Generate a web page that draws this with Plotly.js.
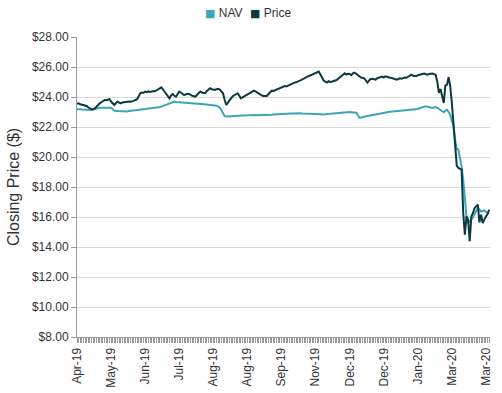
<!DOCTYPE html>
<html>
<head>
<meta charset="utf-8">
<script src="https://cdn.plot.ly/plotly-3.0.1.min.js"></script>
<style>html,body{margin:0;padding:0;background:#fff;}#chart{width:502px;height:393px;}</style>
</head>
<body>
<div id="chart"></div>
<script>
// Daily closing values, Apr-2019 .. Mar-2020 (index = trading day)
const priceValues = [
23.55,23.58,23.52,23.50,23.48,23.47,23.40,23.30,23.22,23.18,
23.20,23.24,23.35,23.48,23.58,23.65,23.75,23.80,23.78,23.84,
23.85,23.70,23.55,23.47,23.60,23.69,23.62,23.58,23.64,23.66,
23.69,23.67,23.70,23.68,23.69,23.74,23.80,23.85,24.05,24.25,
24.30,24.28,24.36,24.32,24.38,24.34,24.36,24.40,24.38,24.44,
24.47,24.55,24.64,24.50,24.35,24.25,24.05,23.91,24.10,24.20,
24.08,24.02,24.20,24.36,24.30,24.18,24.13,24.18,24.22,24.20,
24.12,24.08,24.05,24.02,24.15,24.28,24.36,24.30,24.26,24.25,
24.40,24.52,24.58,24.52,24.48,24.47,24.52,24.55,24.50,24.40,
24.25,23.80,23.47,23.62,23.80,23.92,24.05,24.13,24.18,24.25,
24.08,23.91,23.98,24.05,24.10,24.13,24.20,24.30,24.38,24.42,
24.38,24.30,24.25,24.18,24.10,24.07,24.05,24.07,24.20,24.32,
24.42,24.40,24.45,24.48,24.51,24.58,24.62,24.68,24.73,24.70,
24.76,24.80,24.85,24.90,24.96,24.98,25.05,25.08,25.13,25.20,
25.25,25.30,25.36,25.40,25.45,25.50,25.53,25.60,25.65,25.69,
25.50,25.24,25.10,25.02,24.96,25.05,25.00,25.02,25.08,25.10,
25.13,25.22,25.30,25.36,25.48,25.58,25.50,25.55,25.53,25.45,
25.58,25.62,25.55,25.45,25.36,25.30,25.28,25.24,25.10,24.96,
25.10,25.20,25.22,25.18,25.16,25.25,25.30,25.33,25.36,25.30,
25.38,25.35,25.30,25.28,25.27,25.22,25.20,25.16,25.20,25.25,
25.22,25.27,25.30,25.28,25.35,25.38,25.49,25.42,25.40,25.38,
25.45,25.49,25.50,25.52,25.56,25.52,25.49,25.53,25.55,25.56,
25.52,25.49,25.04,24.27,24.53,24.04,23.60,24.76,24.82,25.33,
24.71,23.60,22.04,20.71,19.42,19.27,19.22,19.16,16.27,14.82,
16.04,15.82,14.38,16.04,16.27,16.60,16.71,16.82,15.64,16.16,
15.60,15.85,16.04,16.20,16.49
];
const navValues = [
23.18,23.20,23.18,23.16,23.15,23.15,23.14,23.13,23.12,23.13,
23.16,23.20,23.24,23.27,23.28,23.29,23.30,23.31,23.30,23.30,
23.29,23.29,23.18,23.09,23.06,23.05,23.04,23.03,23.02,23.02,
23.02,23.04,23.06,23.08,23.10,23.11,23.12,23.13,23.15,23.16,
23.18,23.19,23.20,23.21,23.22,23.23,23.24,23.26,23.28,23.30,
23.32,23.34,23.36,23.40,23.45,23.50,23.53,23.56,23.58,23.64,
23.69,23.67,23.66,23.65,23.64,23.62,23.58,23.58,23.57,23.57,
23.56,23.56,23.55,23.55,23.54,23.54,23.53,23.53,23.52,23.52,
23.51,23.51,23.50,23.49,23.48,23.46,23.42,23.36,23.28,23.12,
22.90,22.72,22.70,22.71,22.72,22.72,22.73,22.74,22.75,22.75,
22.76,22.74,22.75,22.77,22.78,22.78,22.79,22.80,22.80,22.81,
22.80,22.78,22.78,22.79,22.80,22.81,22.82,22.82,22.83,22.82,
22.82,22.84,22.85,22.86,22.86,22.87,22.88,22.88,22.89,22.88,
22.88,22.89,22.90,22.90,22.91,22.90,22.89,22.90,22.91,22.90,
22.90,22.88,22.87,22.86,22.85,22.86,22.85,22.86,22.87,22.86,
22.85,22.84,22.85,22.87,22.88,22.90,22.92,22.93,22.94,22.95,
22.95,22.96,22.97,22.98,22.98,22.99,23.00,23.00,23.00,22.99,
22.98,22.96,22.95,22.80,22.62,22.64,22.68,22.70,22.72,22.74,
22.76,22.79,22.82,22.85,22.88,22.90,22.93,22.95,22.96,22.97,
22.98,22.99,23.00,23.01,23.02,23.04,23.05,23.06,23.07,23.09,
23.11,23.10,23.12,23.13,23.13,23.14,23.14,23.15,23.15,23.16,
23.20,23.25,23.30,23.34,23.36,23.38,23.35,23.30,23.28,23.27,
23.30,23.33,23.28,23.20,23.16,23.05,22.98,23.08,23.16,23.00,
22.82,22.40,22.04,21.16,20.53,20.49,19.90,19.38,18.49,17.16,
16.04,15.60,15.70,15.82,16.00,16.16,16.40,16.60,16.45,16.38,
16.40,16.44,16.35,16.27,16.30
];
const tickLabels = ["Apr-19","May-19","Jun-19","Jul-19","Aug-19","Aug-19","Sep-19","Nov-19","Dec-19","Dec-19","Jan-20","Mar-20","Mar-20"];
const tickStep = 21;
const seriesNames = ["NAV", "Price"];

const dayIndex = priceValues.map((_, i) => i);
const tickPositions = tickLabels.map((_, i) => i * tickStep);

const navColor = '#3aa6b9';
const priceColor = '#0d3942';
const colors = [navColor, priceColor];

const traces = [
  {x: dayIndex, y: navValues, type: 'scatter', mode: 'lines', name: seriesNames[0],
   line: {color: navColor, width: 2}, showlegend: false, hoverinfo: 'skip'},
  {x: dayIndex, y: priceValues, type: 'scatter', mode: 'lines', name: seriesNames[1],
   line: {color: priceColor, width: 2}, showlegend: false, hoverinfo: 'skip'}
];

// compact legend (square swatch + label), like the reference
const legendX = [0.305, 0.414];
const annotations = seriesNames.map((n, i) => ({
  xref: 'paper', yref: 'paper', x: legendX[i], y: 1.08, xanchor: 'left', yanchor: 'middle',
  showarrow: false, align: 'left',
  text: '<span style="color:' + colors[i] + ';font-family:DejaVu Sans;font-size:11px">■</span> ' + n,
  font: {size: 12, color: '#333'}
}));

const layout = {
  width: 502, height: 393,
  margin: {l: 77, r: 12, t: 37, b: 56, pad: 0},
  paper_bgcolor: '#fff', plot_bgcolor: '#fff',
  font: {family: 'Liberation Sans, Arial, sans-serif', size: 12, color: '#333'},
  showlegend: false,
  annotations: annotations,
  xaxis: {
    range: [0, 254.5], tickmode: 'array', tickvals: tickPositions, ticktext: tickLabels,
    tickangle: -90, ticks: 'outside', ticklen: 5, tickcolor: '#999',
    minor: {tickmode: 'linear', tick0: 0, dtick: 1, ticks: 'outside', ticklen: 5, tickcolor: '#999', showgrid: false},
    showgrid: false, zeroline: false, showline: true, linecolor: '#999', linewidth: 1,
    tickfont: {size: 12, color: '#333'}, fixedrange: true
  },
  yaxis: {
    range: [8, 28], dtick: 2, tick0: 8, tickformat: '$.2f',
    ticks: 'outside', ticklen: 5, tickcolor: '#999',
    showgrid: true, gridcolor: '#d9d9d9', gridwidth: 1,
    zeroline: false, showline: true, linecolor: '#999', linewidth: 1,
    tickfont: {size: 12, color: '#333'},
    title: {text: 'Closing Price ($)', font: {size: 16, color: '#333'}, standoff: 8},
    fixedrange: true
  }
};

Plotly.newPlot('chart', traces, layout, {staticPlot: true, displayModeBar: false});
</script>
</body>
</html>
